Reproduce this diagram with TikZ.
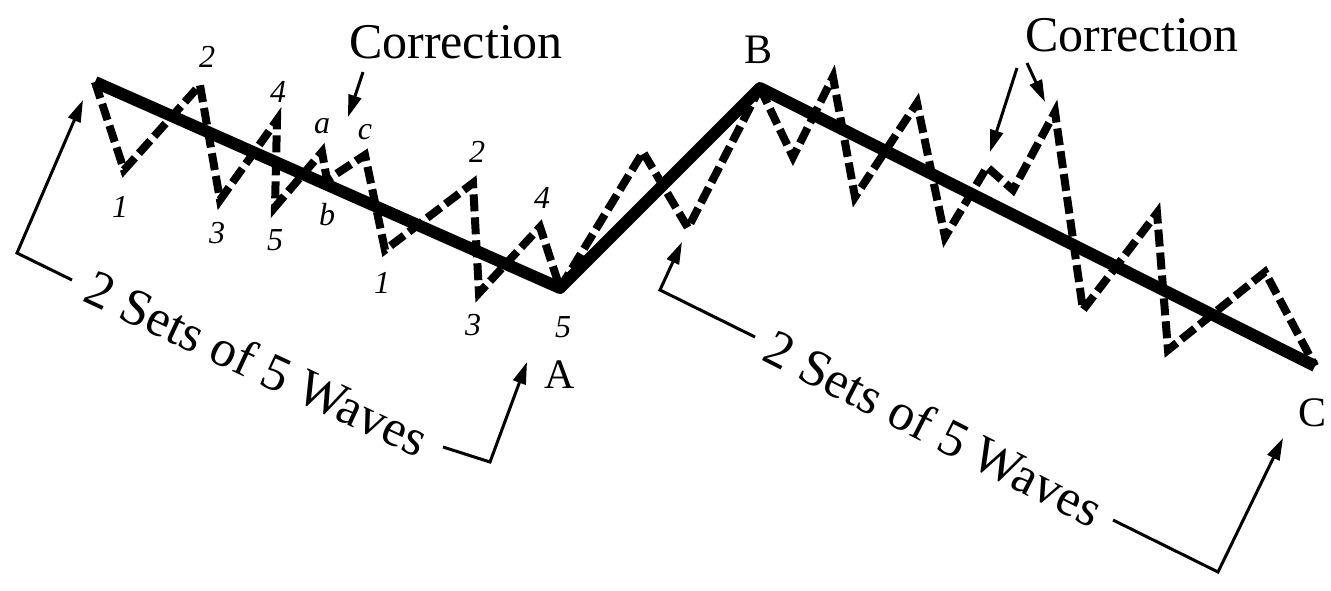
\documentclass[tikz,border=0pt]{standalone}
\usepackage{fontspec}
\setmainfont{Liberation Serif}
\usetikzlibrary{arrows.meta}
\begin{document}
\begin{tikzpicture}[x=1pt,y=-1pt,
  solidline/.style={line width=12pt,line join=round},
  wave/.style={line width=8pt,dash pattern=on 17pt off 6pt},
  pointer/.style={line width=3pt,-{Triangle[length=22pt,width=13pt]}},
  num/.style={font=\fontsize{32}{34}\selectfont\itshape},
  pointname/.style={font=\fontsize{42}{44}\selectfont},
  bigtext/.style={font=\fontsize{50}{54}\selectfont},
  setstext/.style={font=\fontsize{52}{56}\selectfont},
]
\useasboundingbox (0,0) rectangle (1331,590);
% main points
\coordinate (S) at (95,82);
\coordinate (A) at (560,288);
\coordinate (B) at (760,88);
\coordinate (C) at (1315,366);
% solid trend
\draw[solidline] (S) -- (A) -- (B) -- (C);
% dashed waves
\draw[wave] (S) -- (124,170) -- (200,85) -- (220,200) -- (277,120) -- (275,207)
  -- (322,152) -- (327,180) -- (365,155) -- (385,250) -- (473,183) -- (479,293)
  -- (540,227) -- (A);
\draw[wave] (A) -- (643,152) -- (688,228) -- (B);
\draw[wave] (B) -- (793,157) -- (833,77) -- (855,197) -- (917,103) -- (945,237)
  -- (987,167) -- (1013,190) -- (1055,112) -- (1083,310) -- (1157,213)
  -- (1168,350) -- (1265,272) -- (C);
% wave labels
\node[num] (l1) at (120,207) {1};
\node[num] (l2) at (207,57) {2};
\node[num] (l3) at (217,233) {3};
\node[num] (l4) at (278,92) {4};
\node[num] (l5) at (275,240) {5};
\node[num] (la) at (322,126) {a};
\node[num] (lb) at (327,215) {b};
\node[num] (lc) at (365,132) {c};
\node[num] (m1) at (382,283) {1};
\node[num] (m2) at (477,152) {2};
\node[num] (m3) at (473,325) {3};
\node[num] (m4) at (542,198) {4};
\node[num] (m5) at (563,327) {5};
% point names
\node[pointname] (nA) at (560,375) {A};
\node[pointname] (nB) at (758,50) {B};
\node[pointname] (nC) at (1312,413) {C};
% corrections
\node[bigtext] (corr1) at (456,42) {Correction};
\node[bigtext] (corr2) at (1132,35) {Correction};
\coordinate (c1s) at (363,72);
\coordinate (c1e) at (348,117);
\draw[pointer] (c1s) -- (c1e);
\coordinate (c2s) at (1017,68);
\coordinate (c2e) at (990,152);
\coordinate (c3s) at (1027,63);
\coordinate (c3e) at (1045,102);
\draw[pointer] (c2s) -- (c2e);
\draw[pointer] (c3s) -- (c3e);
% brackets
\coordinate (b1s) at (72,280);
\coordinate (b1c) at (17,253);
\coordinate (b1e) at (83,100);
\coordinate (b2s) at (443,447);
\coordinate (b2c) at (490,462);
\coordinate (b2e) at (527,362);
\coordinate (b3s) at (755,337);
\coordinate (b3c) at (660,290);
\coordinate (b3e) at (682,242);
\coordinate (b4s) at (1113,520);
\coordinate (b4c) at (1218,572);
\coordinate (b4e) at (1283,438);
\draw[pointer] (b1s) -- (b1c) -- (b1e);
\draw[pointer] (b2s) -- (b2c) -- (b2e);
\draw[pointer] (b3s) -- (b3c) -- (b3e);
\draw[pointer] (b4s) -- (b4c) -- (b4e);
\node[setstext, rotate=-25] (w1) at (257,363) {2 Sets of 5 Waves};
\node[setstext, rotate=-27] (w2) at (934,428) {2 Sets of 5 Waves};
\end{tikzpicture}
\end{document}
